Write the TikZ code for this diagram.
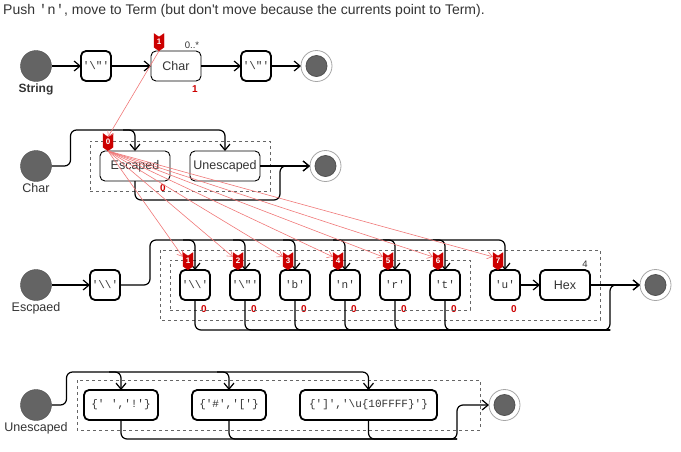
\documentclass[tikz,border=0pt]{standalone}
\usepackage{fontspec}
\setmonofont{Liberation Mono}
\newfontfamily\uifont{Liberation Sans}
\usetikzlibrary{arrows.meta, positioning, calc, fit, shapes.symbols}
\definecolor{dotgray}{HTML}{646464}
\definecolor{tagred}{HTML}{CC0000}
\definecolor{tracered}{HTML}{F07878}
\definecolor{inkgray}{HTML}{333333}
\tikzset{
    startdot/.style={
        circle,
        draw=dotgray!80!black,
        fill=dotgray,
        minimum size=31pt,
        inner sep=0pt,
        outer sep=0pt
    },
    enddot/.style={
        circle,
        draw=gray!70,
        fill=white,
        line width=0.8pt,
        minimum size=31pt,
        inner sep=0pt,
        outer sep=0pt,
        path picture={\filldraw[fill=dotgray, draw=dotgray!80!black] (path picture bounding box.center) circle (10.5pt);}
    },
    statename/.style={
        font=\uifont\fontsize{12.5}{14}\selectfont,
        text=inkgray,
        inner sep=0pt
    },
    plainbox/.style={
        rectangle,
        rounded corners=5pt,
        draw=black,
        line width=0.9pt,
        fill=white,
        minimum height=30pt,
        inner sep=2pt,
        outer sep=0pt,
        text=inkgray,
        font=\uifont\fontsize{12.5}{14}\selectfont
    },
    tokbox/.style={
        rectangle,
        rounded corners=5pt,
        draw=black,
        line width=1.8pt,
        fill=white,
        minimum width=30pt,
        minimum height=30pt,
        inner sep=1pt,
        outer sep=0pt,
        text=inkgray,
        font=\ttfamily\fontsize{11}{13}\selectfont
    },
    groupbox/.style={
        draw=gray!80!black,
        line width=0.6pt,
        dash pattern=on 3pt off 3pt,
        inner sep=10pt
    },
    flow/.style={
        -{Straight Barb[length=6pt,width=10pt]},
        line width=1.2pt,
        rounded corners=6pt
    },
    wire/.style={
        line width=1.2pt,
        rounded corners=6pt
    },
    trace/.style={
        -{Straight Barb[length=5pt,width=7pt]},
        draw=tracered,
        line width=0.6pt
    },
    tagmark/.style={
        signal,
        signal to=south,
        signal from=north,
        signal pointer angle=110,
        fill=tagred,
        draw=tagred,
        text=white,
        minimum width=10pt,
        minimum height=14pt,
        inner sep=0.5pt,
        font=\uifont\bfseries\fontsize{8}{8}\selectfont
    },
    notetext/.style={
        font=\uifont\fontsize{9.5}{10}\selectfont,
        text=inkgray,
        inner sep=0pt
    },
    hitcount/.style={
        font=\uifont\bfseries\fontsize{10}{10}\selectfont,
        text=tagred,
        inner sep=0pt
    }
}

\begin{document}
\begin{tikzpicture}[x=1pt, y=-1pt, font=\uifont]
    \useasboundingbox (0,0) rectangle (681,451);

    % Title
    \node[anchor=west, inner sep=0pt, text=inkgray, font=\uifont\fontsize{14}{16}\selectfont] (title) at (3,11) {Push \texttt{'n'}, move to Term (but don't move because the currents point to Term).};

    % String
    \node[startdot] (sstart) at (36,66) {};
    \node[statename, font=\uifont\bfseries\fontsize{12}{14}\selectfont, below=2pt of sstart] (slabel) {String};
    \node[tokbox, right=29.5pt of sstart] (sq1) {'\textbackslash"'};
    \node[plainbox, minimum width=50pt, right=40pt of sq1] (schar) {Char};
    \node[tokbox, right=40pt of schar] (sq2) {'\textbackslash"'};
    \node[enddot, right=30pt of sq2] (send) {};
    \node[notetext] (snote) at ($(schar.north east)+(-9,-6)$) {0..*};
    \node[hitcount] (shit) at ($(schar.south east)+(-6,8)$) {1};

    \draw[flow] (sstart) -- (sq1);
    \draw[flow] (sq1) -- (schar);
    \draw[flow] (schar) -- (sq2);
    \draw[flow] (sq2) -- (send);

    % Char
    \node[startdot] (cstart) at (36,166) {};
    \node[statename, below=2pt of cstart] (clabel) {Char};
    \node[plainbox, minimum width=70pt, right=48.5pt of cstart] (esc) {Escaped};
    \node[plainbox, minimum width=70pt, right=20pt of esc] (uesc) {Unescaped};
    \node[enddot, right=50pt of uesc] (cend) {};
    \node[hitcount] (chit) at ($(esc.south east)+(-7,7)$) {0};
    \node[groupbox, fit=(esc)(uesc)] (cgroup) {};
    \coordinate (ctop) at (0,130);
    \coordinate (cbot) at (280,200);

    \draw[flow] (cstart.east) -- ++(19,0) |- (uesc.north |- ctop) -- (uesc.north);
    \draw[flow] (esc.north |- ctop) ++(-12,0) -- ++(12,0) -- (esc.north);
    \draw[flow] (esc.south) |- (cbot) |- (cend.west);
    \draw[flow] (uesc) -- (cend);

    % Escaped
    \node[startdot] (estart) at (36,285) {};
    \node[statename, below=2pt of estart] (elabel) {Escpaed};
    \node[tokbox, right=38.5pt of estart] (ebs) {'\textbackslash\textbackslash'};
    \node[tokbox, right=60pt of ebs] (eb1) {'\textbackslash\textbackslash'};
    \node[tokbox, right=20pt of eb1] (eb2) {'\textbackslash"'};
    \node[tokbox, right=20pt of eb2] (eb3) {'b'};
    \node[tokbox, right=20pt of eb3] (eb4) {'n'};
    \node[tokbox, right=20pt of eb4] (eb5) {'r'};
    \node[tokbox, right=20pt of eb5] (eb6) {'t'};
    \node[tokbox, right=30pt of eb6] (eu) {'u'};
    \node[tokbox, minimum width=50pt, font=\uifont\fontsize{12.5}{14}\selectfont, right=20pt of eu] (ehex) {Hex};
    \node[enddot, right=50pt of ehex] (eend) {};
    \node[notetext] (enote) at ($(ehex.north east)+(-5,-6)$) {4};
    \node[hitcount] (ehit1) at ($(eb1.south east)+(-6,9)$) {0};
    \node[hitcount] (ehit2) at ($(eb2.south east)+(-6,9)$) {0};
    \node[hitcount] (ehit3) at ($(eb3.south east)+(-6,9)$) {0};
    \node[hitcount] (ehit4) at ($(eb4.south east)+(-6,9)$) {0};
    \node[hitcount] (ehit5) at ($(eb5.south east)+(-6,9)$) {0};
    \node[hitcount] (ehit6) at ($(eb6.south east)+(-6,9)$) {0};
    \node[hitcount] (ehit7) at ($(eu.south east)+(-6,9)$) {0};
    \node[groupbox, fit=(eb1)(eb6)] (einner) {};
    \draw[groupbox] ($(eb1.north west)+(-20,-20)$) rectangle ($(ehex.south east)+(10,20)$);
    \coordinate (etop) at (0,240);
    \coordinate (ebot) at (610,330);

    \draw[flow] (estart) -- (ebs);
    \draw[flow] (ebs.east) -- ++(30,0) |- (eu.north |- etop) -- (eu.north);
    \draw[flow] (eb1.north |- etop) ++(-12,0) -- ++(12,0) -- (eb1.north);
    \draw[flow] (eb2.north |- etop) ++(-12,0) -- ++(12,0) -- (eb2.north);
    \draw[flow] (eb3.north |- etop) ++(-12,0) -- ++(12,0) -- (eb3.north);
    \draw[flow] (eb4.north |- etop) ++(-12,0) -- ++(12,0) -- (eb4.north);
    \draw[flow] (eb5.north |- etop) ++(-12,0) -- ++(12,0) -- (eb5.north);
    \draw[flow] (eb6.north |- etop) ++(-12,0) -- ++(12,0) -- (eb6.north);
    \draw[flow] (eb1.south) |- (ebot) |- (eend.west);
    \draw[wire] (eb2.south) |- (ebot);
    \draw[wire] (eb3.south) |- (ebot);
    \draw[wire] (eb4.south) |- (ebot);
    \draw[wire] (eb5.south) |- (ebot);
    \draw[wire] (eb6.south) |- (ebot);
    \draw[flow] (eu) -- (ehex);
    \draw[flow] (ehex) -- (eend);

    % Unescaped
    \node[startdot] (ustart) at (36,405) {};
    \node[statename, below=2pt of ustart] (ulabel) {Unescaped};
    \node[tokbox, minimum width=74pt, right=32.5pt of ustart] (u1) {\{' ','!'\}};
    \node[tokbox, minimum width=74pt, right=34pt of u1] (u2) {\{'\#','['\}};
    \node[tokbox, minimum width=137pt, right=34pt of u2] (u3) {\{']','\textbackslash u\{10FFFF\}'\}};
    \node[enddot, right=52pt of u3] (uend) {};
    \draw[groupbox] ($(u1.north west)+(-7,-10)$) rectangle ($(u3.south east)+(43,10)$);
    \coordinate (utop) at (0,372);
    \coordinate (ubot) at (457,439);

    \draw[flow] (ustart.east) -- ++(15,0) |- (u3.north |- utop) -- (u3.north);
    \draw[flow] (u1.north |- utop) ++(-12,0) -- ++(12,0) -- (u1.north);
    \draw[flow] (u2.north |- utop) ++(-12,0) -- ++(12,0) -- (u2.north);
    \draw[flow] (u1.south) |- (ubot) |- (uend.west);
    \draw[wire] (u2.south) |- (ubot);
    \draw[wire] (u3.south) |- (ubot);

    % Current markers
    \node[tagmark, anchor=south] (ts1) at ($(schar.north west)+(8,0)$) {1};
    \node[tagmark, anchor=south] (tc0) at ($(esc.north west)+(8,0)$) {0};
    \node[tagmark, anchor=south] (te1) at ($(eb1.north west)+(8,0)$) {1};
    \node[tagmark, anchor=south] (te2) at ($(eb2.north west)+(8,0)$) {2};
    \node[tagmark, anchor=south] (te3) at ($(eb3.north west)+(8,0)$) {3};
    \node[tagmark, anchor=south] (te4) at ($(eb4.north west)+(8,0)$) {4};
    \node[tagmark, anchor=south] (te5) at ($(eb5.north west)+(8,0)$) {5};
    \node[tagmark, anchor=south] (te6) at ($(eb6.north west)+(8,0)$) {6};
    \node[tagmark, anchor=south] (te7) at ($(eu.north west)+(8,0)$) {7};

    \draw[trace] (ts1.south) -- (tc0.north);
    \draw[trace] (tc0.south) -- (te1.140);
    \draw[trace] (tc0.south) -- (te2.140);
    \draw[trace] (tc0.south) -- (te3.140);
    \draw[trace] (tc0.south) -- (te4.140);
    \draw[trace] (tc0.south) -- (te5.140);
    \draw[trace] (tc0.south) -- (te6.140);
    \draw[trace] (tc0.south) -- (te7.140);

\end{tikzpicture}
\end{document}
